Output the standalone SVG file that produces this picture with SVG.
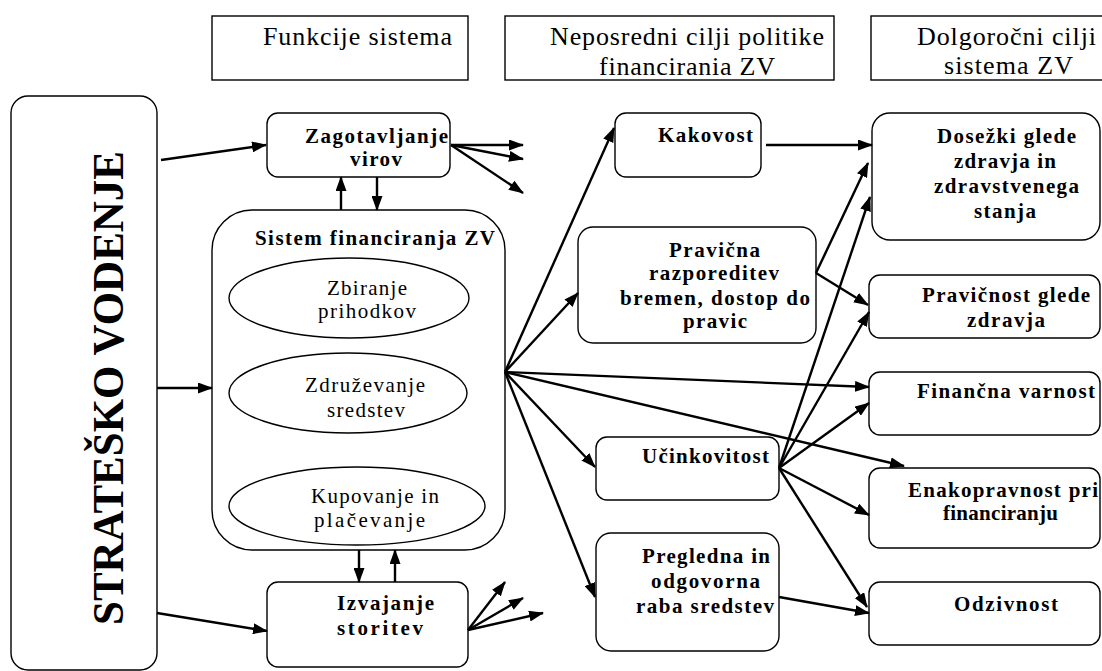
<svg xmlns="http://www.w3.org/2000/svg" width="1102" height="671" viewBox="0 0 1102 671">
<defs>
<marker id="ah" markerUnits="userSpaceOnUse" markerWidth="15" markerHeight="11" refX="14" refY="5.5" orient="auto">
<path d="M0,0 L15,5.5 L0,11 z" fill="#000"/>
</marker>
<style>
.box{fill:#fff;stroke:#000;stroke-width:1.4}
.hd{font-family:"Liberation Serif",serif;font-size:26px;fill:#000}
.b{font-family:"Liberation Serif",serif;font-size:21px;font-weight:bold;fill:#000}
.r{font-family:"Liberation Serif",serif;font-size:21px;fill:#000}
.c{fill:none;stroke:#000;stroke-width:2.4;marker-end:url(#ah)}
</style>
</defs>
<rect width="1102" height="671" fill="#fff"/>

<g id="h1"><rect class="box" x="212" y="16" width="256" height="64"/>
<text class="hd" x="263" y="45" textLength="189">Funkcije sistema</text></g>
<g id="h2"><rect class="box" x="505" y="16" width="329" height="64"/>
<text class="hd" x="550" y="45" textLength="274">Neposredni cilji politike</text>
<text class="hd" x="599" y="75" textLength="176">financirania ZV</text></g>
<g id="h3"><rect class="box" x="871" y="16" width="240" height="64"/>
<text class="hd" x="917" y="45" textLength="179">Dolgoročni cilji</text>
<text class="hd" x="944" y="74" textLength="129">sistema ZV</text></g>

<g id="strat"><rect class="box" x="11" y="96" width="146" height="574" rx="17"/>
<text class="b" style="font-size:45px" transform="translate(123,388) rotate(-90)" x="-237" y="0" textLength="474" lengthAdjust="spacingAndGlyphs">STRATEŠKO VODENJE</text></g>

<g id="zag"><rect class="box" x="267" y="113" width="183" height="64" rx="11"/>
<text class="b" x="305" y="143" textLength="143">Zagotavljanje</text>
<text class="b" x="350" y="166" textLength="52">virov</text></g>

<g id="sistem"><rect class="box" x="212" y="210" width="293" height="340" rx="40"/>
<text class="b" x="255" y="245" textLength="240">Sistem financiranja ZV</text>
<g id="e1"><ellipse class="box" cx="349" cy="298" rx="120" ry="40"/>
<text class="r" x="327" y="295" textLength="80">Zbiranje</text>
<text class="r" x="318" y="318" textLength="98">prihodkov</text></g>
<g id="e2"><ellipse class="box" cx="348" cy="393" rx="119" ry="40"/>
<text class="r" x="305" y="392" textLength="120">Združevanje</text>
<text class="r" x="327" y="417" textLength="78">sredstev</text></g>
<g id="e3"><ellipse class="box" cx="357" cy="506" rx="128" ry="39"/>
<text class="r" x="311" y="503" textLength="128">Kupovanje in</text>
<text class="r" x="314" y="527" textLength="111">plačevanje</text></g>
</g>

<g id="izv"><rect class="box" x="267" y="582" width="201" height="85" rx="11"/>
<text class="b" x="337" y="610" textLength="97">Izvajanje</text>
<text class="b" x="337" y="635" textLength="86">storitev</text></g>

<g id="kak"><rect class="box" x="615" y="113" width="146" height="64" rx="11"/>
<text class="b" x="658" y="142" textLength="95">Kakovost</text></g>

<g id="prav"><rect class="box" x="578" y="227" width="238" height="116" rx="15"/>
<text class="b" x="669" y="257" textLength="91">Pravična</text>
<text class="b" x="649" y="280" textLength="130">razporeditev</text>
<text class="b" x="620" y="305" textLength="190">bremen, dostop do</text>
<text class="b" x="683" y="328" textLength="64">pravic</text></g>

<g id="ucin"><rect class="box" x="596" y="437" width="183" height="63" rx="11"/>
<text class="b" x="642" y="463" textLength="127">Učinkovitost</text></g>

<g id="pregl"><rect class="box" x="596" y="533" width="183" height="118" rx="15"/>
<text class="b" x="642" y="563" textLength="128">Pregledna in</text>
<text class="b" x="651" y="588" textLength="109">odgovorna</text>
<text class="b" x="636" y="613" textLength="138">raba sredstev</text></g>

<g id="dos"><rect class="box" x="872" y="113" width="228" height="127" rx="18"/>
<text class="b" x="937" y="143" textLength="139">Dosežki glede</text>
<text class="b" x="954" y="168" textLength="102">zdravja in</text>
<text class="b" x="934" y="193" textLength="145">zdravstvenega</text>
<text class="b" x="974" y="218" textLength="62">stanja</text></g>

<g id="pravz"><rect class="box" x="869" y="275" width="231" height="63" rx="11"/>
<text class="b" x="922" y="302" textLength="168">Pravičnost glede</text>
<text class="b" x="967" y="327" textLength="78">zdravja</text></g>

<g id="finv"><rect class="box" x="869" y="372" width="231" height="63" rx="11"/>
<text class="b" x="917" y="398" textLength="178">Finančna varnost</text></g>

<g id="enak"><rect class="box" x="869" y="468" width="231" height="80" rx="11"/>
<text class="b" x="908" y="497" textLength="190">Enakopravnost pri</text>
<text class="b" x="943" y="520" textLength="115">financiranju</text></g>

<g id="odz"><rect class="box" x="869" y="582" width="231" height="63" rx="11"/>
<text class="b" x="954" y="611" textLength="104">Odzivnost</text></g>

<g id="connectors">
<line class="c" x1="161" y1="160" x2="266" y2="145"/>
<line class="c" x1="157" y1="388" x2="212" y2="388"/>
<line class="c" x1="157" y1="613" x2="267" y2="631"/>
<line class="c" x1="451" y1="145" x2="523" y2="145"/>
<line class="c" x1="451" y1="145" x2="523" y2="159"/>
<line class="c" x1="451" y1="145" x2="523" y2="193"/>
<line class="c" x1="341" y1="210" x2="341" y2="177"/>
<line class="c" x1="377" y1="177" x2="377" y2="210"/>
<line class="c" x1="359" y1="550" x2="359" y2="582"/>
<line class="c" x1="395" y1="582" x2="395" y2="550"/>
<line class="c" x1="468" y1="630" x2="505" y2="582"/>
<line class="c" x1="468" y1="630" x2="523" y2="598"/>
<line class="c" x1="468" y1="630" x2="543" y2="613"/>
<line class="c" x1="505" y1="372" x2="614" y2="128"/>
<line class="c" x1="505" y1="372" x2="578" y2="293"/>
<line class="c" x1="505" y1="372" x2="869" y2="387"/>
<line class="c" x1="505" y1="372" x2="904" y2="466"/>
<line class="c" x1="505" y1="372" x2="595" y2="467"/>
<line class="c" x1="505" y1="372" x2="595" y2="597"/>
<line class="c" x1="766" y1="145" x2="872" y2="145"/>
<line class="c" x1="816" y1="273" x2="868" y2="163"/>
<line class="c" x1="816" y1="273" x2="868" y2="305"/>
<line class="c" x1="779" y1="468" x2="870" y2="197"/>
<line class="c" x1="779" y1="468" x2="869" y2="312"/>
<line class="c" x1="779" y1="468" x2="869" y2="403"/>
<line class="c" x1="779" y1="468" x2="869" y2="515"/>
<line class="c" x1="779" y1="468" x2="867" y2="607"/>
<line class="c" x1="779" y1="597" x2="869" y2="613"/>
</g>
</svg>
